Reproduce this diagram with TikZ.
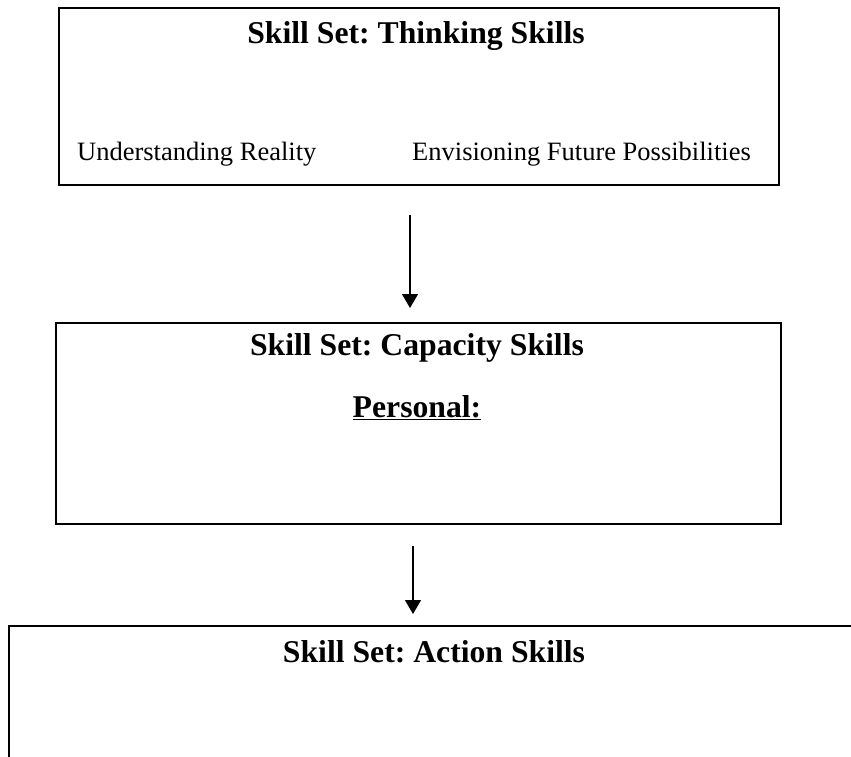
\documentclass[tikz,border=0pt]{standalone}
\usepackage{fontspec}
\setmainfont{Liberation Serif}
\usetikzlibrary{arrows.meta,positioning}
\frenchspacing

\begin{document}
\begin{tikzpicture}[x=1pt,y=-1pt,>={Triangle[width=16pt,length=14pt]},
  skillbox/.style={draw,line width=2pt,rectangle,anchor=north west,inner sep=0pt},
  settitle/.style={anchor=base,inner sep=0pt,font=\fontsize{31.7}{38}\selectfont\bfseries},
  skillitem/.style={anchor=base west,inner sep=0pt,font=\fontsize{26.5}{32}\selectfont}]
\useasboundingbox (0,0) rectangle (851,756);
% the three skill sets
\node[skillbox,minimum width=720pt,minimum height=177pt] (think) at (58,7) {};
\node[skillbox,minimum width=725pt,minimum height=201pt] (capacity) at (55,322) {};
\node[skillbox,minimum width=850pt,minimum height=200pt] (action) at (8,625) {};
% titles and entries
\node[settitle] (thinkT) at (416,43) {Skill Set: Thinking Skills};
\node[skillitem] (reality) at (77,160) {Understanding Reality};
\node[skillitem] (future) at (412,160) {Envisioning Future Possibilities};
\node[settitle] (capacityT) at (417,355) {Skill Set: Capacity Skills};
\node[settitle] (personal) at (417,417) {\underline{Personal:}};
\node[settitle] (actionT) at (434,662) {Skill Set: Action Skills};
% flow between the sets
\draw[->,line width=1.3pt,shorten <=29pt,shorten >=14pt]
  ([xshift=-9pt]think.south) -- ([xshift=-9pt]think.south |- capacity.north);
\draw[->,line width=1.3pt,shorten <=21pt,shorten >=11pt]
  ([xshift=-5.5pt]capacity.south) -- ([xshift=-5.5pt]capacity.south |- action.north);
\end{tikzpicture}
\end{document}
